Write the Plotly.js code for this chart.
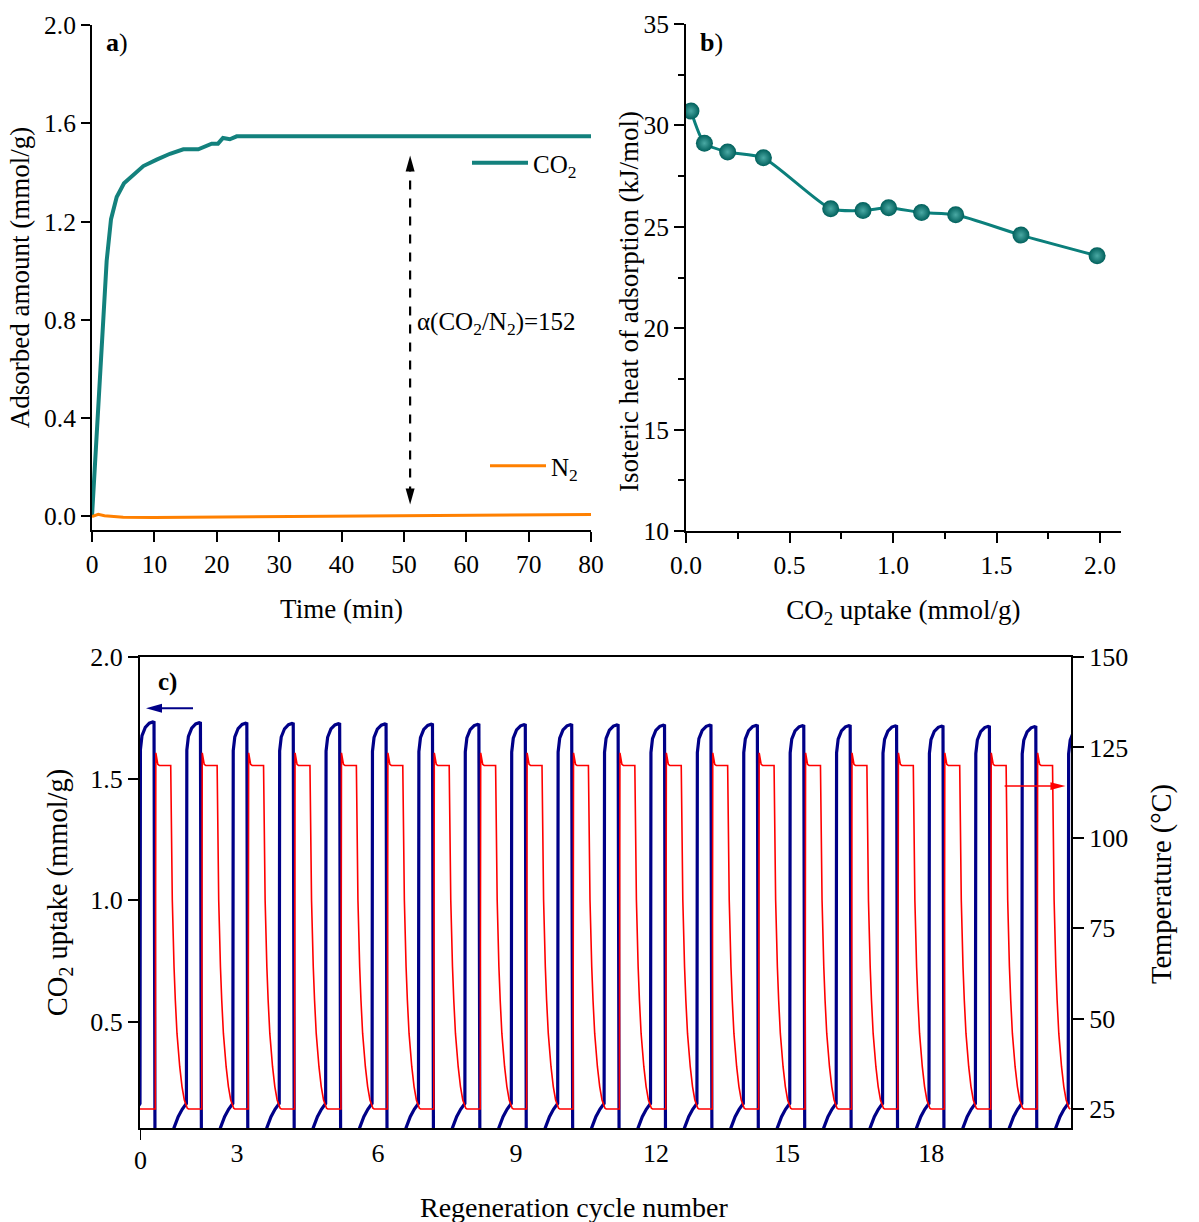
<!DOCTYPE html>
<html><head><meta charset="utf-8">
<script src="https://cdn.plot.ly/plotly-3.0.1.min.js"></script>
<style>html,body{margin:0;padding:0;background:#fff}#chart{width:1199px;height:1222px}</style>
</head><body><div id="chart"></div>
<script>
// ---- Panel a: adsorption kinetics ----
const timeMin = [0, 0.8, 1.4, 1.97, 2.35, 3.05, 3.96, 5.13, 6.62, 8.23, 10.37, 12.5, 14.64, 17.04, 19.19, 20.2, 21.0, 22.1, 23.2, 30, 40, 50, 60, 70, 80];
const co2Amount = [0, 0.36, 0.62, 0.88, 1.04, 1.21, 1.30, 1.356, 1.392, 1.426, 1.452, 1.476, 1.494, 1.494, 1.517, 1.517, 1.54, 1.535, 1.547, 1.547, 1.547, 1.547, 1.547, 1.547, 1.547];
const n2Time = [0, 1, 2, 5, 10, 15, 20, 30, 40, 50, 60, 70, 80];
const n2Amount = [0, 0.009, 0.003, -0.003, -0.004, -0.003, -0.002, 0.0, 0.002, 0.004, 0.006, 0.007, 0.008];
const selectivityText = 'α(CO<sub>2</sub>/N<sub>2</sub>)=152';

// ---- Panel b: isosteric heat ----
const uptakeB = [0.024, 0.089, 0.201, 0.374, 0.699, 0.855, 0.979, 1.138, 1.303, 1.618, 1.986];
const heatB = [30.71, 29.12, 28.69, 28.40, 25.89, 25.80, 25.94, 25.70, 25.59, 24.59, 23.57];

// ---- Panel c: regeneration cycles ----
const cycleUptakePeak = [1.733, 1.730, 1.728, 1.727, 1.726, 1.725, 1.724, 1.723, 1.722, 1.722, 1.721, 1.720, 1.720, 1.719, 1.718, 1.718, 1.717, 1.716, 1.715, 1.714, 1.714];
const uptakeShapeOffset = [-0.345, -0.269, -0.177, -0.091, -0.017, 0, 0.009, 0.043, 0.114, 0.200, 0.274, 0.302, 0.323];
const uptakeShapeValue = [0.0, 0.064, 0.111, 0.141, 0.159, 0.165, 1.617, 1.674, 1.708, 1.725, 1.730, 1.728, 0.0];
const tempCycles = 20;
const tempStart = 25;
const tempShapeOffset = [0.330, 0.341, 0.358, 0.384, 0.416, 0.662, 0.696, 0.711, 0.733, 0.761, 0.797, 0.856, 0.905, 0.955, 1.019, 1.045];
const tempShapeValue = [25, 123.5, 121.5, 120.3, 120, 120, 82.8, 73.6, 64.4, 55.1, 45.9, 36.7, 31.2, 27.5, 25.2, 25];
const cycleTickVals = [2.09, 5.13, 8.10, 11.12, 13.94, 17.05];
const cycleTickText = ['3', '6', '9', '12', '15', '18'];

// build cyclic series from the read cycle shapes
const uptakeX = [], uptakeY = [];
const refPeak = 1.730;
cycleUptakePeak.forEach((pk, k) => {
  uptakeShapeOffset.forEach((o, i) => {
    const v = uptakeShapeValue[i];
    uptakeX.push(k + o);
    uptakeY.push(v > 1 ? v * pk / refPeak : v);
  });
});
const tempX = [0], tempY = [tempStart];
for (let k = 0; k < tempCycles; k++) {
  tempShapeOffset.forEach((o, i) => { tempX.push(k + o); tempY.push(tempShapeValue[i]); });
}

const FONT = 'Liberation Serif, Times New Roman, serif';
const TICK = 25.5, TITLE = 27, TITLEC = 28.5;
const W = 1199, H = 1222;
const px = v => v / W, py = v => 1 - v / H;

const axisBase = {
  showline: true, linewidth: 2, linecolor: '#000', ticks: 'outside', tickwidth: 2, tickcolor: '#000',
  showgrid: false, zeroline: false, tickfont: {size: TICK, family: FONT, color: '#000'}
};

const traces = [
  {x: timeMin, y: co2Amount, xaxis: 'x', yaxis: 'y', type: 'scatter', mode: 'lines', name: 'CO<sub>2</sub>',
   line: {color: '#13817d', width: 4}, legend: 'legend'},
  {x: n2Time, y: n2Amount, xaxis: 'x', yaxis: 'y', type: 'scatter', mode: 'lines', name: 'N<sub>2</sub>',
   line: {color: '#ff8000', width: 3}, legend: 'legend2'},
  {x: uptakeB, y: heatB, xaxis: 'x2', yaxis: 'y2', type: 'scatter', mode: 'lines+markers', showlegend: false,
   line: {color: '#0b7f7b', width: 3, shape: 'spline', smoothing: 0.6},
   marker: {size: 17, color: '#005f5b', gradient: {type: 'radial', color: '#4aa9a4'}, line: {width: 0}}},
  {x: uptakeX, y: uptakeY, xaxis: 'x3', yaxis: 'y3', type: 'scatter', mode: 'lines', showlegend: false,
   line: {color: '#000088', width: 3.2}},
  {x: tempX, y: tempY, xaxis: 'x3', yaxis: 'y4', type: 'scatter', mode: 'lines', showlegend: false,
   line: {color: '#ff0000', width: 1.6}}
];

const layout = {
  width: W, height: H, margin: {l: 0, r: 0, t: 0, b: 0}, paper_bgcolor: '#fff', plot_bgcolor: 'rgba(0,0,0,0)',
  font: {family: FONT, color: '#000'},
  showlegend: true,
  legend: {x: px(467), y: py(163), xanchor: 'left', yanchor: 'middle', bgcolor: 'rgba(0,0,0,0)', itemwidth: 56,
           font: {size: 25, family: FONT}},
  legend2: {x: px(485), y: py(466), xanchor: 'left', yanchor: 'middle', bgcolor: 'rgba(0,0,0,0)', itemwidth: 56,
            font: {size: 25, family: FONT}},
  xaxis: Object.assign({}, axisBase, {domain: [px(92), px(591)], range: [0, 80], anchor: 'y', dtick: 10, tick0: 0, ticklen: 10,
    title: {text: 'Time (min)', font: {size: TITLE, family: FONT}, standoff: 22}}),
  yaxis: Object.assign({}, axisBase, {domain: [py(530), py(25)], range: [-0.055, 2.0], anchor: 'x', tickvals: [0, 0.4, 0.8, 1.2, 1.6, 2.0],
    tickformat: '.1f', ticklen: 9, title: {text: 'Adsorbed amount (mmol/g)', font: {size: TITLE, family: FONT}, standoff: 7}}),
  xaxis2: Object.assign({}, axisBase, {domain: [px(686), px(1120.7)], range: [0, 2.1], anchor: 'y2', dtick: 0.5, tick0: 0, tickformat: '.1f', ticklen: 10,
    minor: {dtick: 0.25, tick0: 0, ticks: 'outside', ticklen: 6, tickwidth: 2, tickcolor: '#000'},
    title: {text: 'CO<sub>2</sub> uptake (mmol/g)', font: {size: TITLE, family: FONT}, standoff: 22}}),
  yaxis2: Object.assign({}, axisBase, {domain: [py(531), py(24)], range: [10, 35], anchor: 'x2', dtick: 5, tick0: 10, ticklen: 10,
    minor: {dtick: 2.5, tick0: 10, ticks: 'outside', ticklen: 6, tickwidth: 2, tickcolor: '#000'}}),
  xaxis3: Object.assign({}, axisBase, {domain: [px(140), px(1071)], range: [0, 20.06], anchor: 'y3', mirror: true,
    tickvals: cycleTickVals, ticktext: cycleTickText, ticklen: 1, tickcolor: 'rgba(0,0,0,0)', tickfont: {size: 26, family: FONT}}),
  yaxis3: Object.assign({}, axisBase, {domain: [py(1128), py(657)], range: [0.0643, 2.0], anchor: 'x3', dtick: 0.5, tick0: 0.5,
    tickformat: '.1f', ticklen: 10, tickfont: {size: 26, family: FONT},
    title: {text: 'CO<sub>2</sub> uptake (mmol/g)', font: {size: TITLEC, family: FONT}, standoff: 14}}),
  yaxis4: Object.assign({}, axisBase, {overlaying: 'y3', side: 'right', anchor: 'x3', range: [19.75, 150], dtick: 25, tick0: 25,
    ticklen: 11, tickfont: {size: 26, family: FONT}}),
  shapes: [
    // selectivity double arrow (panel a)
    {type: 'line', xref: 'x', yref: 'y', x0: 51, x1: 51, y0: 0.085, y1: 1.43, line: {color: '#000', width: 2.2, dash: 'dash'}},
    {type: 'path', xref: 'x', yref: 'y', xsizemode: 'pixel', ysizemode: 'pixel', xanchor: 51, yanchor: 1.469,
     path: 'M0,0L-4.5,-16L4.5,-16Z', fillcolor: '#000', line: {width: 0}},
    {type: 'path', xref: 'x', yref: 'y', xsizemode: 'pixel', ysizemode: 'pixel', xanchor: 51, yanchor: 0.049,
     path: 'M0,0L-4.5,16L4.5,16Z', fillcolor: '#000', line: {width: 0}},
    // axis pointers (panel c)
    {type: 'line', xref: 'x3', yref: 'y3', x0: 0.40, x1: 1.142, y0: 1.789, y1: 1.789, line: {color: '#000088', width: 2}},
    {type: 'path', xref: 'x3', yref: 'y3', xsizemode: 'pixel', ysizemode: 'pixel', xanchor: 0.129, yanchor: 1.789,
     path: 'M0,0L16,4.5L16,-4.5Z', fillcolor: '#000088', line: {width: 0}},
    {type: 'line', xref: 'x3', yref: 'y4', x0: 18.63, x1: 19.70, y0: 114.3, y1: 114.3, line: {color: '#ff0000', width: 1.5}},
    {type: 'path', xref: 'x3', yref: 'y4', xsizemode: 'pixel', ysizemode: 'pixel', xanchor: 19.94, yanchor: 114.3,
     path: 'M0,0L-15,3.8L-15,-3.8Z', fillcolor: '#ff0000', line: {width: 0}},
    // tick at 0 on the cycle axis
    {type: 'line', xref: 'x3', yref: 'paper', x0: 0, x1: 0, y0: py(1128), y1: py(1140), line: {color: '#000', width: 2}}
  ],
  annotations: [
    {xref: 'paper', yref: 'paper', x: px(104), y: py(42), xanchor: 'left', yanchor: 'middle', showarrow: false,
     text: '<b>a</b>)', font: {size: 26, family: FONT}},
    {xref: 'paper', yref: 'paper', x: px(698), y: py(42), xanchor: 'left', yanchor: 'middle', showarrow: false,
     text: '<b>b</b>)', font: {size: 26, family: FONT}},
    {xref: 'paper', yref: 'paper', x: px(156), y: py(682), xanchor: 'left', yanchor: 'middle', showarrow: false,
     text: '<b>c)</b>', font: {size: 25, family: FONT}},
    {xref: 'x', yref: 'y', x: 64.9, y: 0.784, xanchor: 'center', yanchor: 'middle', showarrow: false, text: selectivityText, font: {size: 25, family: FONT}},
    {xref: 'paper', yref: 'paper', x: px(629), y: py(302), xanchor: 'center', yanchor: 'middle', textangle: -90, showarrow: false,
     text: 'Isoteric heat of adsorption (kJ/mol)', font: {size: TITLE, family: FONT}},
    {xref: 'paper', yref: 'paper', x: px(140), y: py(1160), xanchor: 'center', yanchor: 'middle', showarrow: false, text: '0', font: {size: 26, family: FONT}},
    {xref: 'paper', yref: 'paper', x: px(574), y: py(1207), xanchor: 'center', yanchor: 'middle', showarrow: false,
     text: 'Regeneration cycle number', font: {size: 28, family: FONT}},
    {xref: 'paper', yref: 'paper', x: px(1162), y: py(884), xanchor: 'center', yanchor: 'middle', textangle: -90, showarrow: false,
     text: 'Temperature (°C)', font: {size: TITLEC, family: FONT}}
  ]
};

Plotly.newPlot('chart', traces, layout, {displayModeBar: false, staticPlot: true});
</script></body></html>
